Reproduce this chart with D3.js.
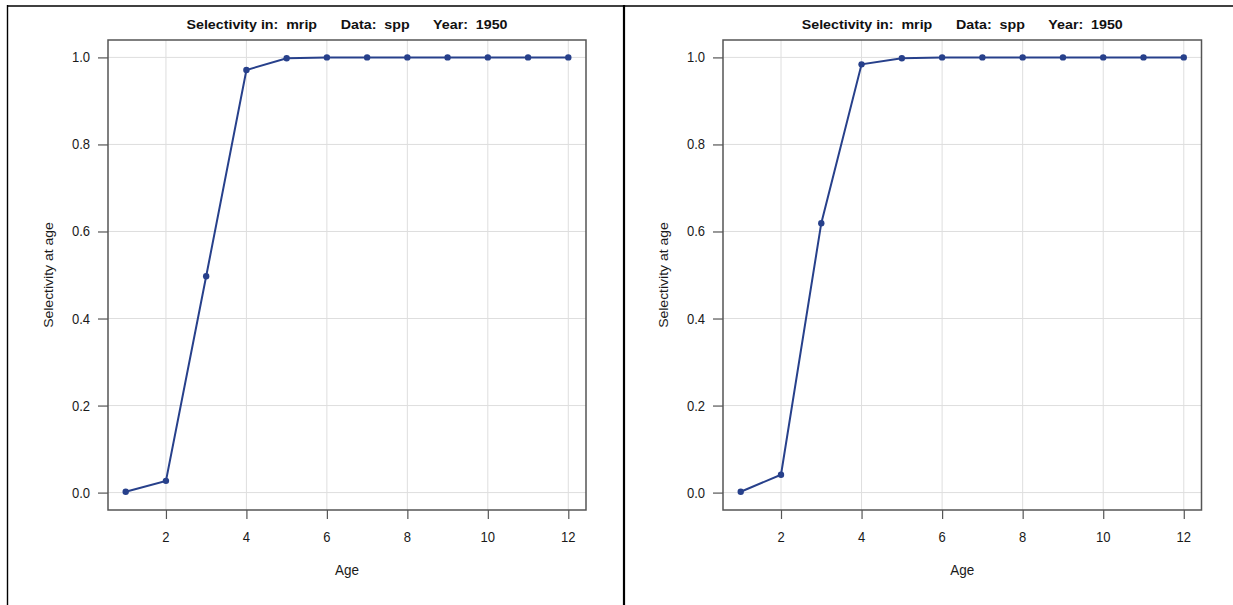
<!DOCTYPE html>
<html>
<head>
<meta charset="utf-8">
<script src="https://cdn.jsdelivr.net/npm/d3@7"></script>
<style>
  html, body { margin: 0; padding: 0; background: #fff; }
  svg { display: block; font-family: "Liberation Sans", Arial, sans-serif; }
  text { white-space: pre; }
</style>
</head>
<body>
<svg id="chart" width="1233" height="605"></svg>
<script>
const ages = [1, 2, 3, 4, 5, 6, 7, 8, 9, 10, 11, 12];
const selectivityLeft  = [0.002, 0.027, 0.497, 0.971, 0.998, 1.0, 1.0, 1.0, 1.0, 1.0, 1.0, 1.0];
const selectivityRight = [0.002, 0.041, 0.619, 0.984, 0.998, 1.0, 1.0, 1.0, 1.0, 1.0, 1.0, 1.0];
const xTicks = [2, 4, 6, 8, 10, 12];
const yTicks = [0.0, 0.2, 0.4, 0.6, 0.8, 1.0];
const titleText = "Selectivity in:  mrip      Data:  spp      Year:  1950";
const xLabel = "Age";
const yLabel = "Selectivity at age";

const svg = d3.select("#chart");
const SX = 0.93; // horizontal squeeze of the reference text

// outer frame lines (document table borders)
const frame = svg.append("g").attr("stroke", "#000").attr("fill", "none");
frame.append("line").attr("x1", 7).attr("x2", 1233).attr("y1", 6).attr("y2", 6).attr("stroke-width", 1.6);
frame.append("line").attr("x1", 7.5).attr("x2", 7.5).attr("y1", 5).attr("y2", 605).attr("stroke-width", 1.4);
frame.append("line").attr("x1", 624).attr("x2", 624).attr("y1", 5).attr("y2", 605).attr("stroke-width", 2.2);

function squeezedText(g, x, y, str, size, anchor, weight) {
  return g.append("text")
    .attr("transform", `translate(${x},${y}) scale(${SX},1)`)
    .attr("text-anchor", anchor)
    .attr("font-size", size)
    .attr("font-weight", weight || "normal")
    .attr("fill", "#1a1a1a")
    .text(str);
}

function panel(left, right, values) {
  const top = 40, bottom = 510;
  const x = d3.scaleLinear().domain([0.56, 12.44]).range([left, right]);
  const y = d3.scaleLinear().domain([-0.04, 1.04]).range([bottom, top]);
  const g = svg.append("g");

  // grid
  g.append("g").selectAll("line").data(xTicks).join("line")
    .attr("x1", d => x(d)).attr("x2", d => x(d)).attr("y1", top).attr("y2", bottom)
    .attr("stroke", "#dedede").attr("stroke-width", 1);
  g.append("g").selectAll("line").data(yTicks).join("line")
    .attr("x1", left).attr("x2", right).attr("y1", d => y(d)).attr("y2", d => y(d))
    .attr("stroke", "#dedede").attr("stroke-width", 1);

  // axes (tick marks only; labels drawn separately)
  const xAxis = d3.axisBottom(x).tickValues(xTicks).tickFormat("").tickSize(9);
  const yAxis = d3.axisLeft(y).tickValues(yTicks).tickFormat("").tickSize(10);
  const gx = g.append("g").attr("transform", `translate(0,${bottom})`).call(xAxis);
  const gy = g.append("g").attr("transform", `translate(${left},0)`).call(yAxis);
  [gx, gy].forEach(a => {
    a.select(".domain").remove();
    a.selectAll(".tick text").remove();
    a.selectAll(".tick line").attr("stroke", "#555").attr("stroke-width", 1.2);
  });

  // tick labels
  const fmtY = d3.format(".1f"), fmtX = d3.format("d");
  yTicks.forEach(v => squeezedText(g, left - 18, y(v) + 5, fmtY(v), 14, "end"));
  xTicks.forEach(v => squeezedText(g, x(v), 542, fmtX(v), 14, "middle"));

  // box
  g.append("rect").attr("x", left).attr("y", top).attr("width", right - left).attr("height", bottom - top)
    .attr("fill", "none").attr("stroke", "#555").attr("stroke-width", 1.5);

  // line + points
  const pts = ages.map((a, i) => [a, values[i]]);
  g.append("path").datum(pts)
    .attr("d", d3.line().x(d => x(d[0])).y(d => y(d[1])))
    .attr("fill", "none").attr("stroke", "#27408b").attr("stroke-width", 2);
  g.append("g").selectAll("circle").data(pts).join("circle")
    .attr("cx", d => x(d[0])).attr("cy", d => y(d[1])).attr("r", 3.2)
    .attr("fill", "#27408b");

  // title
  const cx = (left + right) / 2;
  g.append("text")
    .attr("x", cx).attr("y", 29).attr("text-anchor", "middle")
    .attr("font-size", 13.5).attr("font-weight", "bold").attr("fill", "#111")
    .attr("textLength", 321).attr("lengthAdjust", "spacingAndGlyphs")
    .text(titleText);

  squeezedText(g, cx, 575, xLabel, 14.5, "middle");
  g.append("text").attr("transform", `translate(${left - 55},${(top + bottom) / 2}) rotate(-90) scale(1,${SX})`)
    .attr("text-anchor", "middle").attr("font-size", 14).attr("fill", "#1a1a1a").text(yLabel);
}

panel(108, 586, selectivityLeft);
panel(723, 1201.5, selectivityRight);
</script>
</body>
</html>
